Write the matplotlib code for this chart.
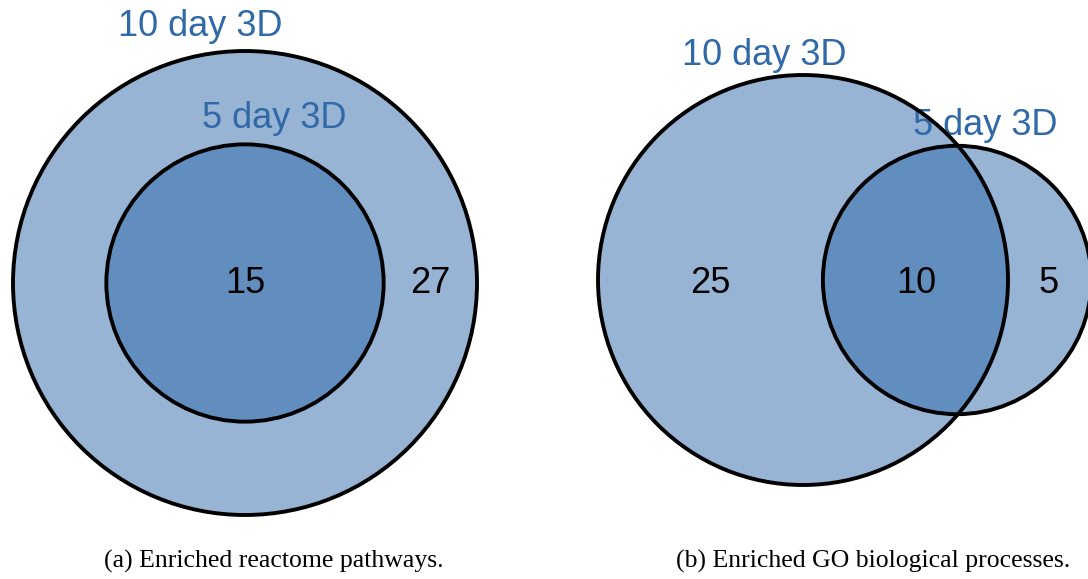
import numpy as np
import matplotlib
matplotlib.use("Agg")
import matplotlib.pyplot as plt
from matplotlib.patches import Circle

# set sizes (only / shared)
sets = ["10 day 3D", "5 day 3D"]
reactome_only10 = 27
reactome_shared = 15
go_only10 = 25
go_shared = 10
go_only5 = 5
captions = ["(a) Enriched reactome pathways.", "(b) Enriched GO biological processes."]

light = "#97b4d4"
dark = "#628ebf"
label_col = "#3069a8"


def lens_area(R, r, d):
    if d >= R + r:
        return 0.0
    if d <= abs(R - r):
        return np.pi * min(R, r) ** 2
    a1 = r * r * np.arccos((d * d + r * r - R * R) / (2 * d * r))
    a2 = R * R * np.arccos((d * d + R * R - r * r) / (2 * d * R))
    a3 = 0.5 * np.sqrt((-d + r + R) * (d + r - R) * (d - r + R) * (d + r + R))
    return a1 + a2 - a3


def solve_dist(R, r, target):
    lo, hi = abs(R - r), R + r
    for i in range(60):
        mid = (lo + hi) / 2
        if lens_area(R, r, mid) > target:
            lo = mid
        else:
            hi = mid
    return (lo + hi) / 2


fig = plt.figure(figsize=(10.88, 5.79), dpi=100)
ax = fig.add_axes([0, 0, 1, 1])
ax.set_xlim(0, 1088)
ax.set_ylim(579, 0)
ax.set_aspect("equal")
ax.axis("off")

lw = 2.8
fs = 26
sans = ["Liberation Sans", "DejaVu Sans"]


def label(x, y, s, color="black", z=6):
    ax.text(x, y, s, color=color, fontsize=fs, family=sans,
            ha="center", va="baseline", zorder=z)


# ---- panel a: nested circles
ca = (245, 283)
ka = 232 / np.sqrt(reactome_only10 + reactome_shared)
Ra = ka * np.sqrt(reactome_only10 + reactome_shared)
ra = ka * np.sqrt(reactome_shared)
ax.add_patch(Circle(ca, Ra, fc=light, ec="none", zorder=1))
ax.add_patch(Circle(ca, ra, fc=dark, ec="none", zorder=2))
ax.add_patch(Circle(ca, Ra, fc="none", ec="black", lw=lw, zorder=5))
ax.add_patch(Circle(ca, ra, fc="none", ec="black", lw=lw, zorder=5))
label(200, 36, sets[0], label_col, 4)
label(274, 128, sets[1], label_col, 4)
label(245, 293, str(reactome_shared))
label(430, 293, str(reactome_only10))

# ---- panel b: overlapping circles
cb = (803, 280)
tot10 = go_only10 + go_shared
tot5 = go_only5 + go_shared
kb = 205 / np.sqrt(tot10)
Rb = kb * np.sqrt(tot10)
rb = kb * np.sqrt(tot5)
d = solve_dist(Rb, rb, go_shared * kb * kb * np.pi)
c5 = (cb[0] + d, cb[1])
big = Circle(cb, Rb, fc=light, ec="none", zorder=1)
ax.add_patch(big)
ax.add_patch(Circle(c5, rb, fc=light, ec="none", zorder=1))
overlap = Circle(c5, rb, fc=dark, ec="none", zorder=2)
ax.add_patch(overlap)
overlap.set_clip_path(big)
ax.add_patch(Circle(cb, Rb, fc="none", ec="black", lw=lw, zorder=5))
ax.add_patch(Circle(c5, rb, fc="none", ec="black", lw=lw, zorder=5))
label(764, 65, sets[0], label_col, 4)
label(985, 135, sets[1], label_col, 4)
label(710, 293, str(go_only10))
label(916, 293, str(go_shared))
label(1049, 293, str(go_only5))

# captions
serif = ["Liberation Serif", "DejaVu Serif"]
ax.text(274, 568, captions[0], fontsize=18.5, family=serif, ha="center", va="baseline")
ax.text(873, 568, captions[1], fontsize=18.5, family=serif, ha="center", va="baseline")

fig.savefig("out.png", dpi=100)
